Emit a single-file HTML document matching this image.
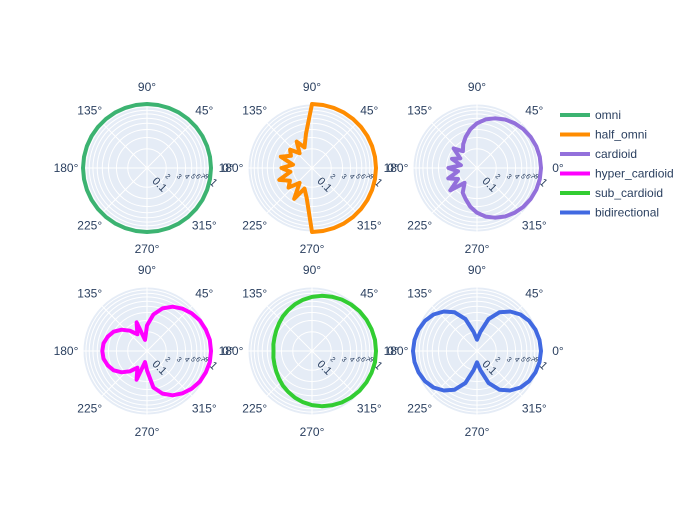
<!DOCTYPE html>
<html><head><meta charset="utf-8"><style>
body{margin:0;background:#fff;}
svg{font-family:"Liberation Sans",sans-serif;}
</style></head><body>
<svg id="chart" width="700" height="500" xmlns="http://www.w3.org/2000/svg"></svg>
<script>
const angles = [0,10,20,30,40,50,60,70,80,90,100,110,120,130,140,150,160,170,180,190,200,210,220,230,240,250,260,270,280,290,300,310,320,330,340,350];
const seriesNames = ["omni","half_omni","cardioid","hyper_cardioid","sub_cardioid","bidirectional"];
const seriesColors = ["#3cb371","#ff8c00","#9370db","#ff00ff","#32cd32","#4169e1"];
const omni = [1,1,1,1,1,1,1,1,1,1,1,1,1,1,1,1,1,1,1,1,1,1,1,1,1,1,1,1,1,1,1,1,1,1,1,1];
const halfOmni = [1,1,1,1,1,1,1,1,1,1,0.35,0.22,0.3,0.2,0.28,0.24,0.33,0.2,0.3,0.22,0.35,0.25,0.3,0.2,0.36,0.22,0.3,1,1,1,1,1,1,1,1,1];
const cardioid = [1,0.99,0.97,0.93,0.88,0.82,0.75,0.67,0.59,0.5,0.41,0.33,0.27,0.22,0.3,0.2,0.26,0.18,0.28,0.2,0.3,0.22,0.35,0.2,0.28,0.33,0.41,0.5,0.59,0.67,0.75,0.82,0.88,0.93,0.97,0.99];
const hyperCardioid = [1,0.99,0.95,0.9,0.82,0.73,0.63,0.51,0.38,0.25,0.15,0.3,0.2,0.26,0.33,0.4,0.45,0.49,0.5,0.49,0.45,0.4,0.33,0.26,0.2,0.3,0.15,0.2,0.38,0.51,0.63,0.73,0.82,0.9,0.95,0.99];
const subCardioid = [1,1,0.98,0.96,0.93,0.89,0.85,0.8,0.75,0.7,0.65,0.6,0.55,0.51,0.47,0.44,0.42,0.41,0.4,0.41,0.42,0.44,0.47,0.51,0.55,0.6,0.65,0.7,0.75,0.8,0.85,0.89,0.93,0.96,0.98,1];
const bidirectional = [1,0.98,0.94,0.87,0.77,0.64,0.5,0.34,0.2,0.15,0.2,0.34,0.5,0.64,0.77,0.87,0.94,0.98,1,0.98,0.94,0.87,0.77,0.64,0.5,0.34,0.2,0.15,0.2,0.34,0.5,0.64,0.77,0.87,0.94,0.98];
const allSeries = [omni,halfOmni,cardioid,hyperCardioid,subCardioid,bidirectional];
const angTicks = [0,45,90,135,180,225,270,315];
const radTicks = [0.1,0.2,0.3,0.4,0.5,0.6,0.7,0.8,0.9,1];
const radLabels = ["0.1","2","3","4","5","6","7","8","9","1"];

const NS="http://www.w3.org/2000/svg";
const svg=document.getElementById('chart');
function mk(t,a,p){const e=document.createElementNS(NS,t);for(const k in a)e.setAttribute(k,a[k]);(p||svg).appendChild(e);return e;}
const R=64;
const centers=[[147,168],[312,168],[477,168],[147,351],[312,351],[477,351]];
function rScale(v){const l=Math.log10(Math.max(v,0.1))+1;return Math.max(0,Math.min(1,l))*R;}
function pt(cx,cy,deg,r){const a=deg*Math.PI/180;return [cx+r*Math.cos(a),cy-r*Math.sin(a)];}

centers.forEach((c,i)=>{
  const [cx,cy]=c;
  const g=mk('g',{});
  
  
  const bg=mk('circle',{cx,cy,r:R,fill:'#e5ecf6'},g);
  
  
  radTicks.forEach(t=>{if(t>0.1)mk('circle',{cx,cy,r:rScale(t),fill:'none',stroke:'#fff','stroke-width':1},g);});
  angTicks.forEach(a=>{
    const p=pt(cx,cy,a,R);
    mk('line',{x1:cx,y1:cy,x2:p[0],y2:p[1],stroke:'#fff','stroke-width':1},g);
    const q=pt(cx,cy,a,R+17);
    const lab=mk('text',{x:q[0],y:q[1]+4,'font-size':12,fill:'#2a3f5f','text-anchor':'middle'},g);
    lab.textContent=a+'°';
    
    
  });
  radTicks.forEach((t,k)=>{
    const r=rScale(t);
    const x=cx+(k==0?10:r), y=cy+(k==0?19:(k==9?17:10));
    const tl=mk('text',{x:x,y:y,'font-size':k==0||k==9?11:7,fill:'#2a3f5f','text-anchor':'middle',transform:`rotate(45 ${x} ${y})`},g);
    tl.textContent=radLabels[k];
    
    
  });
  const vals=allSeries[i];
  let d='';
  angles.forEach((a,k)=>{const p=pt(cx,cy,a,rScale(vals[k]));d+=(k?'L':'M')+p[0].toFixed(1)+','+p[1].toFixed(1);});
  d+='Z';
  const line=mk('path',{d,fill:'none',stroke:seriesColors[i],'stroke-width':4,'stroke-linejoin':'round'},g);
  
  
});

seriesNames.forEach((n,i)=>{
  const y=115+i*19.5;
  const g=mk('g',{});
  
  
  mk('line',{x1:560,y1:y,x2:590,y2:y,stroke:seriesColors[i],'stroke-width':4},g);
  const t=mk('text',{x:595,y:y+4,'font-size':12,fill:'#2a3f5f'},g);
  t.textContent=n;
});
</script>
</body></html>
